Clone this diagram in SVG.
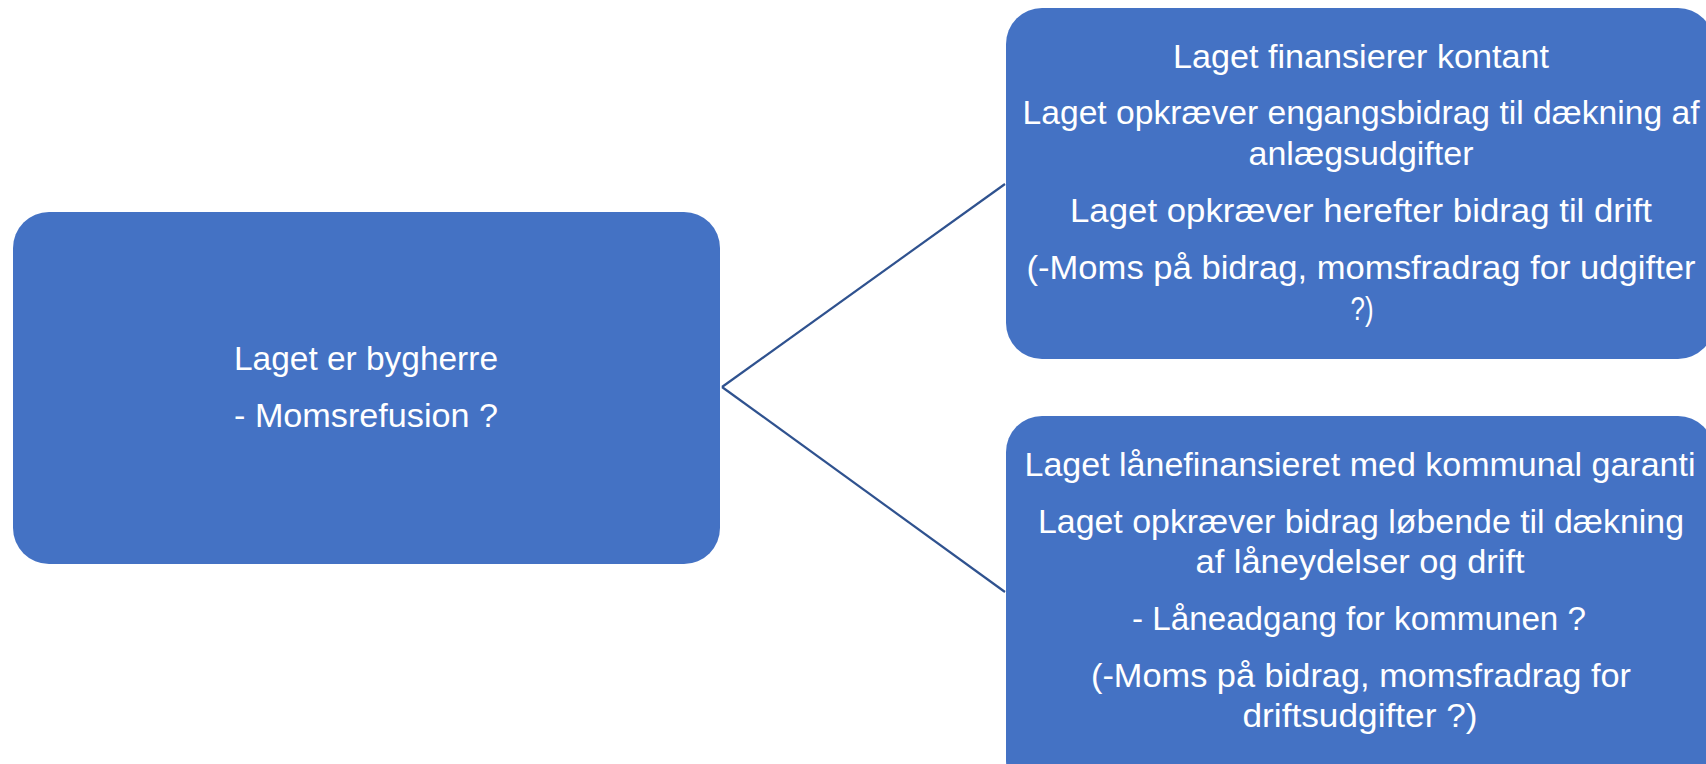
<svg xmlns="http://www.w3.org/2000/svg" width="1706" height="764" viewBox="0 0 1706 764">
<style>
.box{fill:#4472C4;}
.t{fill:#ffffff;font-family:"Liberation Sans",Arial,sans-serif;font-size:33px;text-anchor:middle;}
.conn{stroke:#2F528F;stroke-width:2.2;fill:none;}
</style>
<rect width="1706" height="764" fill="#ffffff"/>
<g id="connectors">
<line class="conn" x1="722" y1="387" x2="1005" y2="184"/>
<line class="conn" x1="722" y1="387" x2="1005" y2="592"/>
</g>
<g id="node-root">
<rect class="box" x="13" y="212" width="707" height="352" rx="36"/>
<text class="t" x="366" y="370" textLength="264" lengthAdjust="spacingAndGlyphs">Laget er bygherre</text>
<text class="t" x="366" y="427" textLength="264" lengthAdjust="spacingAndGlyphs">- Momsrefusion ?</text>
</g>
<g id="node-kontant">
<rect class="box" x="1006" y="8" width="708" height="351" rx="36"/>
<text class="t" x="1361" y="68" textLength="376" lengthAdjust="spacingAndGlyphs">Laget finansierer kontant</text>
<text class="t" x="1361" y="124" textLength="677" lengthAdjust="spacingAndGlyphs">Laget opkræver engangsbidrag til dækning af</text>
<text class="t" x="1361" y="165" textLength="225" lengthAdjust="spacingAndGlyphs">anlægsudgifter</text>
<text class="t" x="1361" y="222" textLength="582" lengthAdjust="spacingAndGlyphs">Laget opkræver herefter bidrag til drift</text>
<text class="t" x="1361" y="279" textLength="669" lengthAdjust="spacingAndGlyphs">(-Moms på bidrag, momsfradrag for udgifter</text>
<text class="t" x="1362" y="320" textLength="23" lengthAdjust="spacingAndGlyphs">?)</text>
</g>
<g id="node-laan">
<rect class="box" x="1006" y="416" width="708" height="380" rx="36"/>
<text class="t" x="1360" y="476" textLength="671" lengthAdjust="spacingAndGlyphs">Laget lånefinansieret med kommunal garanti</text>
<text class="t" x="1361" y="533" textLength="646" lengthAdjust="spacingAndGlyphs">Laget opkræver bidrag løbende til dækning</text>
<text class="t" x="1360" y="573" textLength="329" lengthAdjust="spacingAndGlyphs">af låneydelser og drift</text>
<text class="t" x="1359" y="630" textLength="454" lengthAdjust="spacingAndGlyphs">- Låneadgang for kommunen ?</text>
<text class="t" x="1361" y="687" textLength="540" lengthAdjust="spacingAndGlyphs">(-Moms på bidrag, momsfradrag for</text>
<text class="t" x="1360" y="727" textLength="235" lengthAdjust="spacingAndGlyphs">driftsudgifter ?)</text>
</g>
</svg>
